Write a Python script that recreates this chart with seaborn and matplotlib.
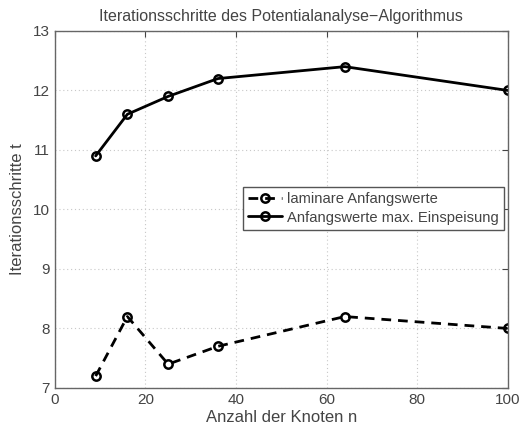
import matplotlib
matplotlib.use("Agg")
import matplotlib.pyplot as plt
import seaborn as sns
import pandas as pd

knoten = [9, 16, 25, 36, 64, 100]
laminar = [7.2, 8.2, 7.4, 7.7, 8.2, 8.0]
max_einspeisung = [10.9, 11.6, 11.9, 12.2, 12.4, 12.0]
labels = ["laminare Anfangswerte", "Anfangswerte max. Einspeisung"]
x_ticks = [0, 20, 40, 60, 80, 100]
y_ticks = [7, 8, 9, 10, 11, 12, 13]

sns.set_style("white")
plt.rcParams['font.family'] = ['Liberation Sans', 'DejaVu Sans']
text_color = "#444444"

df = pd.DataFrame({
    "n": knoten * 2,
    "t": laminar + max_einspeisung,
    "Serie": [labels[0]] * len(knoten) + [labels[1]] * len(knoten),
})

fig = plt.figure(figsize=(5.23, 4.24), dpi=100)
ax = fig.add_axes([0.105, 0.085, 0.866, 0.842])

sns.lineplot(data=df, x="n", y="t", hue="Serie", style="Serie",
             palette=["black", "black"], dashes={labels[0]: (3.5, 2.5), labels[1]: ""},
             markers={labels[0]: "o", labels[1]: "o"},
             markersize=6, markerfacecolor="none", markeredgecolor="black",
             markeredgewidth=1.8, linewidth=2, ax=ax)

ax.set_xlim(0, 100)
ax.set_ylim(7, 13)
ax.set_xticks(x_ticks)
ax.set_yticks(y_ticks)
ax.grid(True, linestyle=(0, (1, 2.5)), color="#c8c8c8", linewidth=0.8)
ax.tick_params(direction="in", colors=text_color, labelsize=11, length=4,
               top=True, right=True)
for s in ax.spines.values():
    s.set_color("#666666")
    s.set_linewidth(1)

ax.set_xlabel("Anzahl der Knoten n", fontsize=12, color=text_color, labelpad=2)
ax.set_ylabel("Iterationsschritte t", fontsize=12, color=text_color, labelpad=6)
ax.set_title("Iterationsschritte des Potentialanalyse\u2212Algorithmus",
             fontsize=11.5, color=text_color, pad=7)

leg = ax.legend(loc="upper left", bbox_to_anchor=(0.416, 0.563), fontsize=10.6,
                frameon=True, fancybox=False, framealpha=1, borderpad=0.35,
                handlelength=2.3, handletextpad=0.3, labelspacing=0.3,
                borderaxespad=0)
leg.get_frame().set_edgecolor("#555555")
leg.get_frame().set_linewidth(1)
for t in leg.get_texts():
    t.set_color(text_color)

fig.savefig("out.png", dpi=100)
